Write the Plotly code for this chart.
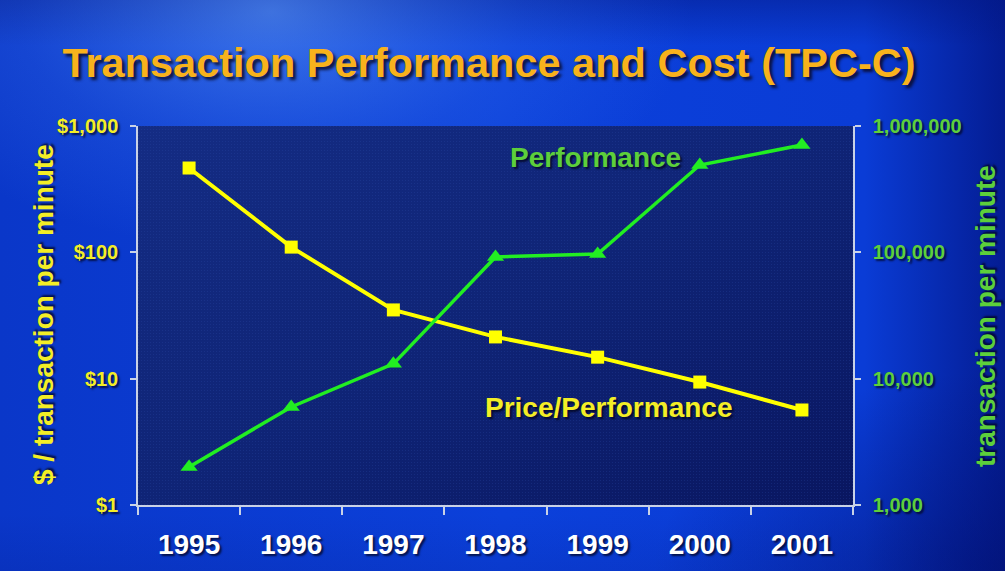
import base64
import plotly.graph_objects as go

# ---- data ----
years = [1995, 1996, 1997, 1998, 1999, 2000, 2001]
year_labels = ["1995", "1996", "1997", "1998", "1999", "2000", "2001"]
price_performance = [465, 110, 35, 21.4, 14.8, 9.4, 5.65]        # $ / transaction per minute
performance = [2000, 5970, 13100, 91900, 97000, 491000, 707000]   # transactions per minute
left_tickvals = [1, 10, 100, 1000]
left_ticktext = ["$1", "$10", "$100", "$1,000"]
right_tickvals = [1000, 10000, 100000, 1000000]
right_ticktext = ["1,000", "10,000", "100,000", "1,000,000"]
boundaries = [y - 0.5 for y in years] + [years[-1] + 0.5]

# ---- styling ----
W, H = 1005, 571
ML, MR, MT, MB = 138, 152, 126, 66
PW, PH = W - ML - MR, H - MT - MB
FONT = "Liberation Sans, Arial, sans-serif"
YEL = "#ffff00"
YEL_TXT = "#f3ee26"
GRN = "#22ee22"
GRN_TXT = "#5dcf3b"
AXC = "#c9d2e6"
SHADOW = "2px 2px 2px rgba(0,0,20,0.7)"

bg_svg = f'''<svg xmlns="http://www.w3.org/2000/svg" width="{W}" height="{H}" viewBox="0 0 {W} {H}" preserveAspectRatio="none">
<defs>
<linearGradient id="h" x1="0" y1="0" x2="1" y2="0">
<stop offset="0" stop-color="#0a37c9"/>
<stop offset="0.5" stop-color="#0b40da"/>
<stop offset="0.86" stop-color="#0a3cd6"/>
<stop offset="1" stop-color="#041c92"/>
</linearGradient>
<linearGradient id="v" x1="0" y1="0" x2="0" y2="1">
<stop offset="0" stop-color="#031680" stop-opacity="0.45"/>
<stop offset="0.08" stop-color="#031680" stop-opacity="0"/>
<stop offset="0.9" stop-color="#031680" stop-opacity="0"/>
<stop offset="1" stop-color="#031680" stop-opacity="0.15"/>
</linearGradient>
<radialGradient id="r" cx="0.27" cy="0.02" r="0.42">
<stop offset="0" stop-color="#6aa8ff" stop-opacity="0.55"/>
<stop offset="0.6" stop-color="#4a88f8" stop-opacity="0.18"/>
<stop offset="1" stop-color="#4a88f8" stop-opacity="0"/>
</radialGradient>
<radialGradient id="br" cx="1" cy="1" r="0.35">
<stop offset="0" stop-color="#021070" stop-opacity="0.6"/>
<stop offset="1" stop-color="#021070" stop-opacity="0"/>
</radialGradient>
</defs>
<rect width="{W}" height="{H}" fill="url(#h)"/>
<rect width="{W}" height="{H}" fill="url(#v)"/>
<rect width="{W}" height="{H}" fill="url(#r)"/>
<rect width="{W}" height="{H}" fill="url(#br)"/>
</svg>'''

plot_svg = f'''<svg xmlns="http://www.w3.org/2000/svg" width="{PW}" height="{PH}" viewBox="0 0 {PW} {PH}" preserveAspectRatio="none">
<defs>
<linearGradient id="p" x1="0" y1="0" x2="1" y2="1">
<stop offset="0" stop-color="#142c84"/>
<stop offset="0.5" stop-color="#0f2476"/>
<stop offset="1" stop-color="#091660"/>
</linearGradient>
<pattern id="d" width="3" height="3" patternUnits="userSpaceOnUse">
<rect width="1" height="1" fill="#3050b0" fill-opacity="0.25"/>
</pattern>
</defs>
<rect width="{PW}" height="{PH}" fill="url(#p)"/>
<rect width="{PW}" height="{PH}" fill="url(#d)"/>
</svg>'''


def svg_uri(s):
    return "data:image/svg+xml;base64," + base64.b64encode(s.encode()).decode()


fig = go.Figure()
fig.add_trace(go.Scatter(
    x=years, y=price_performance, mode="lines+markers", name="Price/Performance",
    line=dict(color=YEL, width=4), marker=dict(symbol="square", size=13, color=YEL),
    xaxis="x", yaxis="y", showlegend=False, hoverinfo="x+y"))
fig.add_trace(go.Scatter(
    x=years, y=performance, mode="lines+markers", name="Performance",
    line=dict(color=GRN, width=3.5), marker=dict(symbol="triangle-up", size=15, color=GRN),
    xaxis="x", yaxis="y2", showlegend=False, hoverinfo="x+y"))

xr = [years[0] - 0.5, years[-1] + 0.5]
tickfont_y = dict(family=FONT, size=20, weight="bold", shadow=SHADOW)

fig.update_layout(
    width=W, height=H,
    margin=dict(l=ML, r=MR, t=MT, b=MB),
    paper_bgcolor="#0b3cd4",
    plot_bgcolor="rgba(0,0,0,0)",
    showlegend=False,
    xaxis=dict(
        range=xr, tickvals=years, ticktext=year_labels, ticks="",
        tickfont=dict(family=FONT, size=28, color="white", weight="bold", shadow=SHADOW),
        ticklabelstandoff=14,
        showline=True, linecolor=AXC, linewidth=1.5, showgrid=False, zeroline=False,
        minor=dict(tickvals=boundaries, ticks="outside", ticklen=8, tickwidth=1.5, tickcolor=AXC, showgrid=False),
        anchor="y", fixedrange=True),
    xaxis2=dict(
        range=xr, tickvals=boundaries, ticks="inside", ticklen=8, tickwidth=1.5, tickcolor=AXC,
        showticklabels=False, showline=False, showgrid=False, zeroline=False,
        overlaying="x", anchor="y", side="bottom", fixedrange=True),
    yaxis=dict(
        type="log", range=[0, 3], tickvals=left_tickvals, ticktext=left_ticktext,
        ticks="outside", ticklen=6, tickwidth=1.5, tickcolor=AXC,
        tickfont=dict(tickfont_y, color=YEL_TXT), ticklabelstandoff=8,
        showline=True, linecolor=AXC, linewidth=1.5, showgrid=False, zeroline=False,
        anchor="x", fixedrange=True),
    yaxis3=dict(
        type="log", range=[0, 3], tickvals=left_tickvals, ticks="inside", ticklen=6,
        tickwidth=1.5, tickcolor=AXC, showticklabels=False, showline=False, showgrid=False,
        overlaying="y", side="left", anchor="x", fixedrange=True),
    yaxis2=dict(
        type="log", range=[3, 6], tickvals=right_tickvals, ticktext=right_ticktext,
        ticks="outside", ticklen=6, tickwidth=1.5, tickcolor=AXC,
        tickfont=dict(tickfont_y, color=GRN_TXT), ticklabelstandoff=8,
        showline=True, linecolor=AXC, linewidth=1.5, showgrid=False, zeroline=False,
        overlaying="y", side="right", anchor="x", fixedrange=True),
    yaxis4=dict(
        type="log", range=[3, 6], tickvals=right_tickvals, ticks="inside", ticklen=6,
        tickwidth=1.5, tickcolor=AXC, showticklabels=False, showline=False, showgrid=False,
        overlaying="y", side="right", anchor="x", fixedrange=True),
    images=[
        dict(source=svg_uri(bg_svg), xref="paper", yref="paper",
             x=-ML / PW, y=1 + MT / PH, sizex=W / PW, sizey=H / PH,
             sizing="stretch", layer="below", xanchor="left", yanchor="top"),
        dict(source=svg_uri(plot_svg), xref="paper", yref="paper",
             x=0, y=1, sizex=1, sizey=1,
             sizing="stretch", layer="below", xanchor="left", yanchor="top"),
    ],
    title=dict(
        text="Transaction Performance and Cost (TPC-C)",
        x=489 / W, xref="container", xanchor="center",
        y=1 - 62 / H, yref="container", yanchor="middle",
        font=dict(family=FONT, size=41.5, color="#f8b21c", weight="bold",
                  shadow="3px 3px 3px rgba(10,10,40,0.85)")),
    annotations=[
        dict(text="$ / transaction per minute", textangle=-90, showarrow=False,
             xref="paper", yref="paper", x=(43 - ML) / PW, y=(H - MB - 315) / PH,
             xanchor="center", yanchor="middle",
             font=dict(family=FONT, size=28, color=YEL_TXT, weight="bold", shadow=SHADOW)),
        dict(text="transaction per minute", textangle=-90, showarrow=False,
             xref="paper", yref="paper", x=(985 - ML) / PW, y=(H - MB - 316) / PH,
             xanchor="center", yanchor="middle",
             font=dict(family=FONT, size=28, color=GRN_TXT, weight="bold", shadow=SHADOW)),
        dict(text="Performance", showarrow=False,
             xref="paper", yref="paper", x=(595 - ML) / PW, y=(H - MB - 157) / PH,
             xanchor="center", yanchor="middle",
             font=dict(family=FONT, size=28, color=GRN_TXT, weight="bold", shadow=SHADOW)),
        dict(text="Price/Performance", showarrow=False,
             xref="paper", yref="paper", x=(608 - ML) / PW, y=(H - MB - 407) / PH,
             xanchor="center", yanchor="middle",
             font=dict(family=FONT, size=28, color=YEL_TXT, weight="bold", shadow=SHADOW)),
    ],
)

fig.write_html("out.html", config={"displayModeBar": False},
               post_script="document.body.style.margin='0';document.body.style.overflow='hidden';")
